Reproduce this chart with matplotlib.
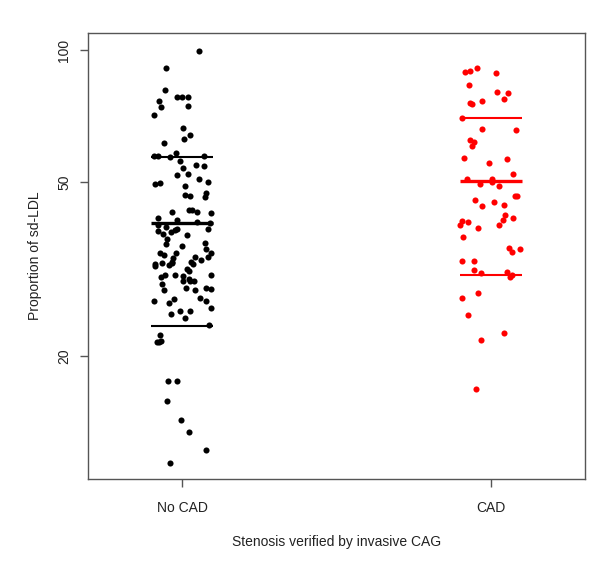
'''Stripchart of sd-LDL proportion by CAD status (log scale, jittered points, mean +/- SD)'''
import matplotlib
matplotlib.use('Agg')
import matplotlib.pyplot as plt
import numpy as np

plt.rcParams['font.family'] = ['Liberation Sans', 'DejaVu Sans']

groups = ['No CAD', 'CAD']
colors = ['black', '#ff0000']

# proportion of sd-LDL (%), with the horizontal jitter of each dot
no_cad = [99.5, 91.0, 81.2, 76.6, 78.2, 78.2, 78.2, 74.1, 74.5, 71.0,
          66.3, 63.9, 62.5, 61.3, 58.2, 57.2, 57.3, 56.9, 57.2, 55.8,
          54.5, 54.2, 53.8, 51.7, 52.2, 50.8, 49.4, 49.8, 50.0, 49.0,
          46.6, 46.4, 47.2, 46.2, 43.0, 43.2, 42.7, 42.7, 42.4, 41.3,
          40.9, 40.5, 40.2, 39.8, 39.5, 39.1, 38.5, 38.0, 38.4, 38.8,
          39.0, 37.0, 37.7, 36.0, 35.7, 36.2, 35.1, 34.4, 34.1, 34.3,
          34.4, 33.4, 32.8, 33.6, 33.2, 33.7, 32.4, 32.1, 32.7, 32.3,
          32.6, 32.8, 32.5, 31.6, 31.2, 30.3, 30.6, 30.6, 30.4, 30.7,
          29.7, 30.0, 29.6, 29.6, 29.2, 28.3, 28.6, 28.3, 28.6, 28.5,
          26.7, 26.4, 27.0, 27.1, 26.7, 25.7, 25.0, 25.4, 25.4, 24.4,
          23.5, 22.3, 21.5, 21.5, 21.6, 17.5, 17.5, 15.8, 14.3, 13.4,
          12.2, 11.4]
no_cad_jit = [0.054, -0.051, -0.054, -0.074, -0.017, -0.002, 0.020, -0.069, 0.020, -0.092,
              0.002, 0.025, 0.005, -0.060, -0.021, -0.092, -0.077, -0.039, 0.070, -0.007,
              0.046, 0.070, 0.002, -0.017, 0.018, 0.054, -0.088, -0.072, 0.083, 0.008,
              0.008, 0.024, 0.076, 0.074, 0.022, 0.032, 0.049, -0.033, 0.095, -0.077,
              -0.016, 0.049, 0.089, -0.079, -0.051, 0.085, -0.077, -0.061, -0.035, -0.023,
              -0.016, -0.049, 0.016, -0.053, -0.001, 0.074, 0.077, -0.071, -0.059, -0.021,
              0.095, -0.030, -0.033, 0.043, 0.061, 0.083, -0.088, -0.088, -0.065, -0.044,
              -0.032, 0.028, 0.036, 0.017, 0.022, -0.070, -0.054, -0.023, 0.002, 0.095,
              0.003, 0.021, 0.027, 0.038, -0.066, -0.058, 0.011, 0.041, 0.076, 0.095,
              -0.092, -0.041, -0.028, 0.057, 0.076, 0.092, -0.036, -0.006, 0.025, 0.008,
              0.087, -0.071, -0.083, -0.075, -0.067, -0.045, -0.016, -0.048, -0.005, 0.022,
              0.078, -0.039]

cad = [89.1, 89.5, 91.0, 88.7, 83.2, 80.3, 79.6, 77.4, 76.6, 75.7,
       75.2, 69.8, 65.9, 65.6, 62.3, 61.5, 60.4, 56.6, 55.2, 56.4,
       52.0, 50.8, 50.8, 50.0, 49.5, 49.0, 45.4, 44.0, 45.0, 44.2,
       46.3, 46.3, 41.9, 41.3, 40.9, 39.8, 40.7, 40.5, 39.8, 39.2,
       37.4, 35.3, 34.5, 35.1, 32.9, 32.9, 31.4, 31.0, 31.1, 30.7,
       30.3, 27.2, 27.8, 24.8, 22.6, 21.7, 16.8]
cad_jit = [-0.085, -0.069, -0.046, 0.016, -0.070, 0.019, 0.057, 0.041, -0.028, -0.066,
           -0.060, -0.093, -0.028, 0.083, -0.066, -0.054, -0.060, -0.088, -0.005, 0.053,
           0.073, -0.078, 0.003, 0.003, -0.034, 0.028, -0.052, -0.028, 0.009, 0.041,
           0.079, 0.086, 0.045, 0.071, 0.038, 0.027, -0.093, -0.075, -0.099, -0.043,
           -0.090, 0.059, 0.069, 0.096, -0.095, -0.056, -0.056, -0.032, 0.053, 0.069,
           0.062, -0.093, -0.040, -0.075, 0.041, -0.032, -0.049]

# mean and SD lines as drawn
means = [40.15, 50.2]
sds = [16.75, 19.6]

fig = plt.figure(figsize=(6.0, 5.77), dpi=100)
ax = fig.add_axes([88 / 600, 1 - 479 / 577, 497 / 600, 446 / 577])

for i, (vals, jit) in enumerate([(no_cad, no_cad_jit), (cad, cad_jit)]):
    xpos = i + 1 + np.array(jit)
    ax.plot(xpos, vals, 'o', color=colors[i], markersize=4.4, markeredgewidth=0)
    ax.hlines(means[i], i + 1 - 0.1, i + 1 + 0.1, color=colors[i], lw=2.4)
    ax.hlines([means[i] - sds[i], means[i] + sds[i]], i + 1 - 0.1, i + 1 + 0.1,
              color=colors[i], lw=1.5)

ax.set_yscale('log')
ax.set_ylim(10 ** 1.0201, 10 ** 2.0388)
ax.set_xlim(0.695, 2.305)
ax.set_yticks([20, 50, 100])
ax.set_yticklabels(['20', '50', '100'], rotation=90, va='center')
ax.yaxis.set_minor_locator(matplotlib.ticker.NullLocator())
ax.set_xticks([1, 2])
ax.set_xticklabels(groups)

for s in ax.spines.values():
    s.set_color('#555555')
    s.set_linewidth(1.0)
ax.tick_params(axis='both', length=6, width=1.0, color='#555555', labelsize=10,
               labelcolor='#222222')
ax.tick_params(axis='y', pad=6)
ax.tick_params(axis='x', pad=10)

ax.set_ylabel('Proportion of sd-LDL', fontsize=10, color='#222222', labelpad=11)
ax.set_xlabel('Stenosis verified by invasive CAG', fontsize=10, color='#222222',
              labelpad=14)

fig.savefig('out.png', dpi=100)
